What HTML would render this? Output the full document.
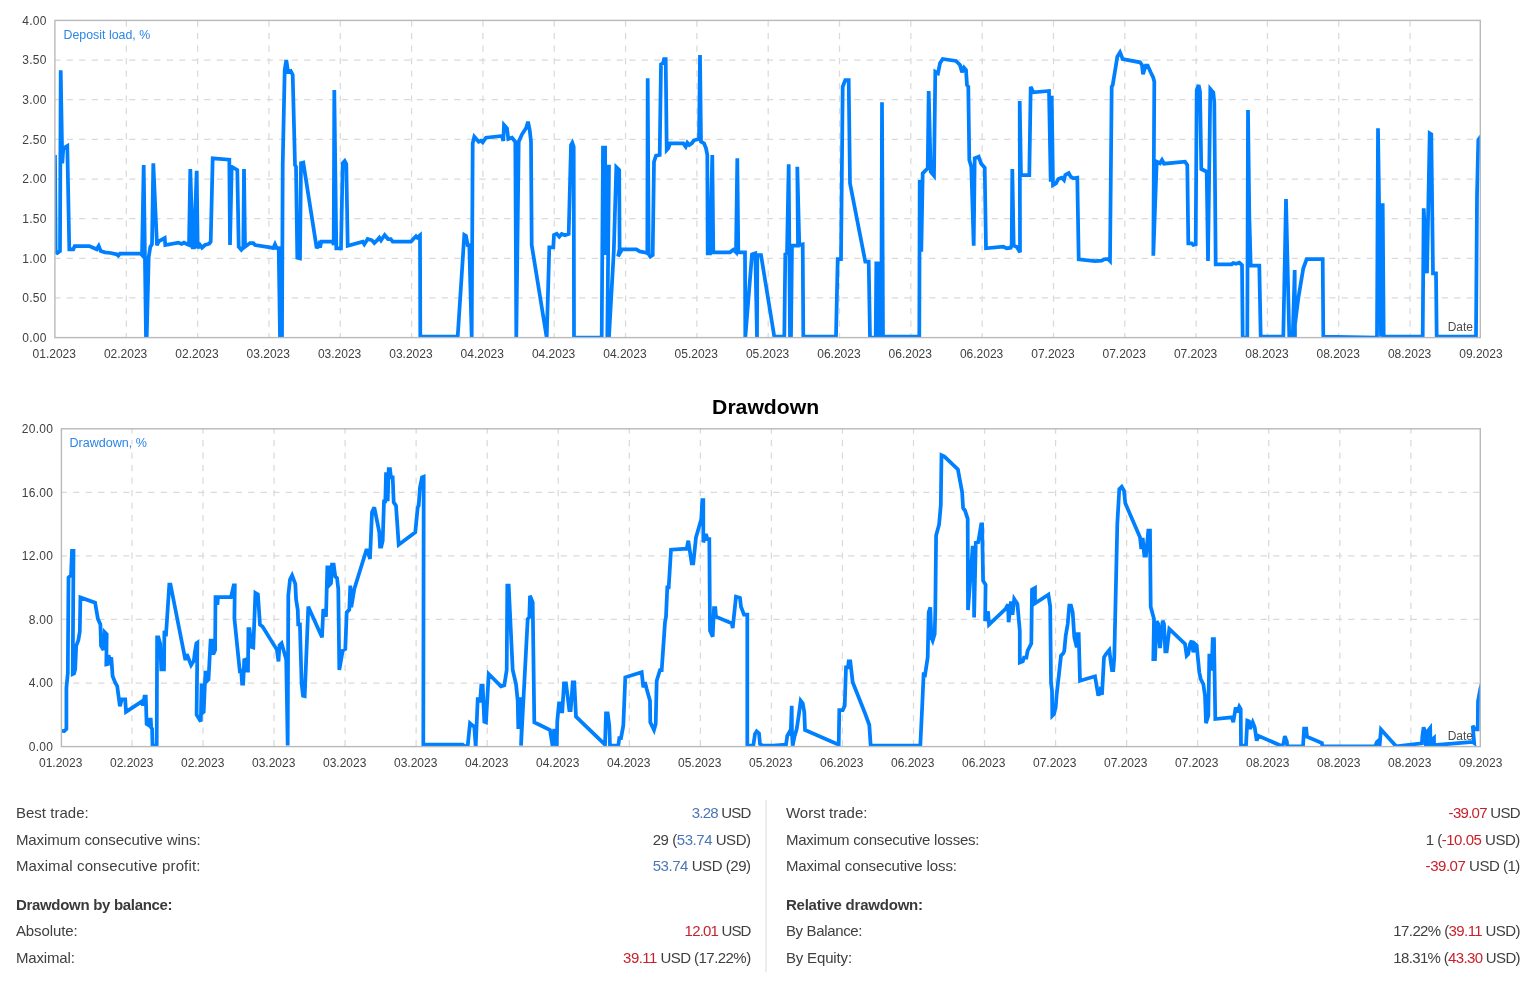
<!DOCTYPE html>
<html><head><meta charset="utf-8"><title>Drawdown</title>
<style>
html,body{margin:0;padding:0;background:#fff;}
body{width:1536px;height:981px;position:relative;overflow:hidden;font-family:"Liberation Sans", sans-serif;color:#404040;}
.t{position:absolute;white-space:nowrap;line-height:20px;height:20px;}
.t b{font-weight:bold;color:#3a3a3a}
.dv{position:absolute;left:765px;top:800px;width:2px;height:171.5px;background:#ececec;}
</style></head><body>
<svg width="1536" height="981" viewBox="0 0 1536 981" style="position:absolute;left:0;top:0" font-family='"Liberation Sans", sans-serif'><defs><clipPath id="c1"><rect x="54.9" y="20.4" width="1425.40" height="317.20"/></clipPath></defs><path d="M54.90 60.05H1480.30M54.90 99.70H1480.30M54.90 139.35H1480.30M54.90 179.00H1480.30M54.90 218.65H1480.30M54.90 258.30H1480.30M54.90 297.95H1480.30" fill="none" stroke="#dadada" stroke-width="1.25" stroke-dasharray="6.25 6.25" stroke-dashoffset="0.7"/><path d="M126.32 20.40V337.60M197.64 20.40V337.60M268.96 20.40V337.60M340.28 20.40V337.60M411.60 20.40V337.60M482.92 20.40V337.60M554.24 20.40V337.60M625.56 20.40V337.60M696.88 20.40V337.60M768.20 20.40V337.60M839.52 20.40V337.60M910.84 20.40V337.60M982.16 20.40V337.60M1053.48 20.40V337.60M1124.80 20.40V337.60M1196.12 20.40V337.60M1267.44 20.40V337.60M1338.76 20.40V337.60M1410.08 20.40V337.60" fill="none" stroke="#dadada" stroke-width="1.25" stroke-dasharray="6.25 6.25" stroke-dashoffset="0"/><text x="63.5" y="38.5" font-size="12" fill="#2b86e6" stroke="#fff" stroke-width="3" stroke-linejoin="round" paint-order="stroke" textLength="86.7" lengthAdjust="spacingAndGlyphs">Deposit load, %</text><polyline clip-path="url(#c1)" points="55.0,155.0 55.7,252.3 57.3,253.0 60.0,251.0 60.7,70.3 62.3,163.3 63.3,148.3 67.3,146.0 69.3,249.3 73.3,249.3 74.7,246.0 89.3,246.0 96.7,249.3 98.7,246.0 100.7,251.0 105.0,252.3 110.7,253.0 116.7,254.3 118.3,255.7 120.0,253.7 140.7,253.7 142.0,255.0 143.7,165.0 146.0,337.7 146.7,337.7 148.7,257.0 150.3,247.0 152.0,244.3 153.3,163.3 157.0,245.3 158.7,241.3 164.7,238.0 165.3,245.0 178.3,242.7 181.7,244.0 184.0,242.7 186.7,244.0 189.0,245.0 190.3,169.0 192.7,247.3 194.0,247.3 196.7,170.7 197.7,248.3 200.0,245.0 202.0,247.7 205.0,245.0 209.3,243.7 210.7,241.7 212.7,158.3 229.3,159.7 230.0,245.0 231.7,166.7 237.3,170.0 238.7,246.7 241.3,249.7 243.3,247.0 244.0,169.0 245.0,246.7 250.0,243.0 253.3,243.0 255.0,245.0 270.0,247.3 273.3,248.0 275.0,244.3 276.7,248.0 278.7,248.0 280.0,337.7 282.0,337.7 282.7,165.0 284.7,70.0 286.3,60.0 288.0,71.7 290.7,71.0 292.7,75.0 295.0,165.0 296.0,166.7 297.3,257.7 300.0,258.3 301.0,163.3 303.3,162.7 316.7,248.3 318.7,244.3 320.0,247.7 321.3,241.7 332.7,241.7 333.7,245.0 334.3,90.0 336.3,248.3 341.0,248.3 342.7,163.3 344.7,161.0 346.3,164.0 347.7,245.7 362.7,241.7 364.3,244.3 367.7,239.0 372.0,240.3 374.3,243.0 377.7,239.7 379.3,237.7 381.0,240.3 384.7,235.0 388.0,239.0 390.7,239.0 392.7,241.7 411.0,241.7 413.3,239.0 416.0,236.3 417.3,237.7 420.0,235.3 420.3,336.7 457.7,336.7 464.3,235.0 466.0,236.0 467.7,245.0 469.3,245.0 471.7,337.7 472.7,143.3 474.3,136.7 478.7,141.7 481.0,140.7 482.7,142.3 486.0,137.7 502.0,136.0 503.3,141.0 504.0,125.0 507.0,128.3 508.3,139.0 512.0,137.7 515.3,141.7 516.3,337.7 518.7,141.7 522.0,134.3 526.0,128.3 528.0,121.7 529.7,130.0 531.0,141.7 531.7,245.0 546.7,337.7 549.3,247.3 553.3,247.3 554.0,235.0 556.7,233.7 559.3,236.7 561.7,234.0 565.0,235.3 568.7,234.0 571.0,145.0 572.3,142.7 573.7,146.7 574.0,337.7 601.7,337.7 603.0,147.7 605.1,147.7 605.4,255.0 606.4,166.7 607.3,166.7 609.0,166.7 607.3,337.0 609.0,337.0 613.8,251.0 616.3,167.1 619.2,170.0 619.6,248.8 618.1,256.3 622.0,249.4 636.4,249.4 639.7,251.4 646.2,252.7 647.3,253.3 647.7,78.3 648.7,254.3 650.3,256.7 652.7,255.0 654.0,161.7 656.0,155.7 659.7,155.0 661.0,64.3 663.0,63.3 664.0,59.0 665.7,59.0 666.7,150.0 668.3,148.3 670.0,143.3 683.3,143.3 685.7,146.7 687.3,142.7 689.3,145.0 691.7,143.3 694.0,140.3 699.0,139.0 700.0,55.0 701.0,141.7 704.0,143.3 706.0,148.3 707.3,155.0 707.7,253.3 710.0,253.3 712.3,155.0 713.3,252.3 730.0,252.3 733.3,249.7 736.0,252.3 737.3,158.3 738.3,252.3 745.0,252.3 745.3,337.7 752.0,254.3 755.3,253.3 757.0,337.7 757.3,255.0 761.0,255.0 774.3,336.7 784.3,336.7 785.3,254.3 787.0,253.7 788.7,164.3 790.0,337.7 791.0,337.7 792.0,245.7 798.0,245.7 797.3,166.7 799.3,245.0 802.7,244.3 803.3,336.7 836.0,336.7 837.7,259.0 841.0,259.0 842.7,86.7 845.3,80.0 848.7,80.0 850.0,183.3 865.3,261.7 868.7,261.7 870.0,337.7 875.7,337.7 876.3,263.3 878.0,263.3 878.3,337.7 881.3,337.7 882.0,102.3 883.0,336.7 919.3,336.7 919.7,180.0 921.3,251.7 922.7,173.3 927.7,168.3 928.7,91.0 930.7,171.7 934.0,175.7 935.3,71.7 938.0,73.3 940.0,63.3 942.7,59.0 956.0,61.0 960.0,65.0 962.0,72.3 964.0,67.7 966.0,70.0 967.0,85.0 968.3,86.7 969.3,160.0 971.3,166.7 973.7,245.7 974.7,158.3 978.7,156.7 981.0,163.3 981.7,164.3 984.7,167.7 986.0,248.3 1003.3,246.7 1006.7,248.3 1010.7,247.7 1011.7,245.0 1012.3,169.0 1013.7,245.7 1016.7,246.7 1020.0,252.3 1019.7,101.0 1021.0,175.0 1029.3,175.0 1030.7,86.7 1033.3,92.3 1049.0,91.0 1050.7,181.7 1051.7,95.7 1053.0,185.0 1056.0,183.3 1058.3,179.0 1061.7,177.7 1064.0,180.0 1065.3,175.0 1068.7,173.0 1070.7,176.7 1073.3,178.3 1077.3,177.7 1078.7,259.3 1095.0,261.0 1101.7,260.7 1104.0,259.3 1108.0,259.0 1110.0,261.0 1111.7,86.7 1112.7,85.0 1116.0,65.0 1117.3,56.7 1120.0,52.3 1122.7,59.0 1140.0,62.3 1142.0,65.0 1143.0,74.3 1145.7,65.7 1147.7,65.7 1150.7,72.3 1153.3,77.7 1154.3,81.7 1153.3,255.7 1156.7,161.7 1160.0,163.3 1162.0,160.0 1164.0,163.7 1185.0,161.7 1187.3,165.0 1188.3,243.3 1191.7,243.3 1193.3,245.0 1195.7,244.3 1196.7,90.0 1198.7,85.0 1200.0,91.7 1201.3,169.0 1206.7,171.7 1208.0,261.0 1210.3,89.0 1212.0,91.0 1213.3,92.3 1214.3,102.3 1215.7,264.3 1231.7,264.3 1233.3,263.0 1236.0,263.7 1239.3,262.7 1242.0,265.0 1242.7,337.7 1247.3,337.7 1248.0,110.0 1249.3,215.0 1250.7,265.7 1259.3,265.7 1260.7,336.7 1283.3,336.7 1286.0,199.0 1289.3,337.7 1292.7,337.7 1294.7,270.0 1295.0,337.7 1293.3,337.7 1298.3,298.3 1303.3,268.3 1306.7,259.0 1322.7,259.0 1323.3,336.7 1377.0,337.7 1378.0,128.3 1381.0,336.7 1382.7,203.3 1383.7,336.7 1422.7,336.7 1423.7,208.3 1427.0,273.3 1429.7,133.3 1431.3,134.3 1433.0,273.3 1436.0,273.3 1436.7,336.7 1476.0,336.7 1477.0,195.0 1478.3,140.0 1480.7,136.7 1487.3,131.7" fill="none" stroke="#0080ff" stroke-width="3.75" stroke-linejoin="miter" stroke-miterlimit="3"/><text x="1473.0" y="331.2" font-size="12" fill="#4d4d4d" text-anchor="end">Date</text><rect x="54.9" y="20.4" width="1425.40" height="317.20" fill="none" stroke="#b9b9b9" stroke-width="1.4"/><text x="46.6" y="24.7" font-size="12" fill="#404040" text-anchor="end" letter-spacing="0.25">4.00</text><text x="46.6" y="64.4" font-size="12" fill="#404040" text-anchor="end" letter-spacing="0.25">3.50</text><text x="46.6" y="104.0" font-size="12" fill="#404040" text-anchor="end" letter-spacing="0.25">3.00</text><text x="46.6" y="143.7" font-size="12" fill="#404040" text-anchor="end" letter-spacing="0.25">2.50</text><text x="46.6" y="183.3" font-size="12" fill="#404040" text-anchor="end" letter-spacing="0.25">2.00</text><text x="46.6" y="223.0" font-size="12" fill="#404040" text-anchor="end" letter-spacing="0.25">1.50</text><text x="46.6" y="262.6" font-size="12" fill="#404040" text-anchor="end" letter-spacing="0.25">1.00</text><text x="46.6" y="302.3" font-size="12" fill="#404040" text-anchor="end" letter-spacing="0.25">0.50</text><text x="46.6" y="341.9" font-size="12" fill="#404040" text-anchor="end" letter-spacing="0.25">0.00</text><text x="54.3" y="357.6" font-size="12" fill="#404040" text-anchor="middle">01.2023</text><text x="125.6" y="357.6" font-size="12" fill="#404040" text-anchor="middle">02.2023</text><text x="197.0" y="357.6" font-size="12" fill="#404040" text-anchor="middle">02.2023</text><text x="268.3" y="357.6" font-size="12" fill="#404040" text-anchor="middle">03.2023</text><text x="339.6" y="357.6" font-size="12" fill="#404040" text-anchor="middle">03.2023</text><text x="410.9" y="357.6" font-size="12" fill="#404040" text-anchor="middle">03.2023</text><text x="482.3" y="357.6" font-size="12" fill="#404040" text-anchor="middle">04.2023</text><text x="553.6" y="357.6" font-size="12" fill="#404040" text-anchor="middle">04.2023</text><text x="624.9" y="357.6" font-size="12" fill="#404040" text-anchor="middle">04.2023</text><text x="696.3" y="357.6" font-size="12" fill="#404040" text-anchor="middle">05.2023</text><text x="767.6" y="357.6" font-size="12" fill="#404040" text-anchor="middle">05.2023</text><text x="838.9" y="357.6" font-size="12" fill="#404040" text-anchor="middle">06.2023</text><text x="910.3" y="357.6" font-size="12" fill="#404040" text-anchor="middle">06.2023</text><text x="981.6" y="357.6" font-size="12" fill="#404040" text-anchor="middle">06.2023</text><text x="1052.9" y="357.6" font-size="12" fill="#404040" text-anchor="middle">07.2023</text><text x="1124.2" y="357.6" font-size="12" fill="#404040" text-anchor="middle">07.2023</text><text x="1195.6" y="357.6" font-size="12" fill="#404040" text-anchor="middle">07.2023</text><text x="1266.9" y="357.6" font-size="12" fill="#404040" text-anchor="middle">08.2023</text><text x="1338.2" y="357.6" font-size="12" fill="#404040" text-anchor="middle">08.2023</text><text x="1409.6" y="357.6" font-size="12" fill="#404040" text-anchor="middle">08.2023</text><text x="1480.9" y="357.6" font-size="12" fill="#404040" text-anchor="middle">09.2023</text><defs><clipPath id="c2"><rect x="61.4" y="428.8" width="1418.90" height="317.80"/></clipPath></defs><path d="M61.40 492.36H1480.30M61.40 555.92H1480.30M61.40 619.48H1480.30M61.40 683.04H1480.30" fill="none" stroke="#dadada" stroke-width="1.25" stroke-dasharray="6.25 6.25" stroke-dashoffset="0.7"/><path d="M131.95 428.80V746.60M203.00 428.80V746.60M274.05 428.80V746.60M345.10 428.80V746.60M416.15 428.80V746.60M487.20 428.80V746.60M558.25 428.80V746.60M629.30 428.80V746.60M700.35 428.80V746.60M771.40 428.80V746.60M842.45 428.80V746.60M913.50 428.80V746.60M984.55 428.80V746.60M1055.60 428.80V746.60M1126.65 428.80V746.60M1197.70 428.80V746.60M1268.75 428.80V746.60M1339.80 428.80V746.60M1410.85 428.80V746.60" fill="none" stroke="#dadada" stroke-width="1.25" stroke-dasharray="6.25 6.25" stroke-dashoffset="1.2"/><text x="69.5" y="447" font-size="12" fill="#2b86e6" stroke="#fff" stroke-width="3" stroke-linejoin="round" paint-order="stroke" textLength="77.5" lengthAdjust="spacingAndGlyphs">Drawdown, %</text><polyline clip-path="url(#c2)" points="61.5,730.8 64.3,731.1 66.4,729.0 66.4,687.8 67.8,673.1 68.5,577.5 71.0,575.0 72.0,550.9 73.5,550.9 72.7,674.1 74.1,673.5 75.2,668.9 76.2,645.8 78.3,640.5 79.8,631.5 80.4,597.5 95.1,602.7 97.9,618.9 100.4,624.4 101.0,645.8 103.5,650.0 104.6,632.1 106.7,634.2 106.3,664.3 108.0,663.9 108.6,655.2 109.8,660.1 111.3,657.3 112.6,676.2 115.1,682.5 117.2,686.1 119.9,706.3 121.8,699.3 125.2,699.3 126.0,711.9 142.0,701.4 143.0,705.6 144.5,696.6 145.8,696.6 146.6,723.9 148.7,725.2 149.1,719.7 150.8,719.7 151.2,727.7 152.1,728.7 152.5,745.5 156.7,745.5 157.1,637.4 158.4,637.4 160.2,643.7 161.3,669.3 164.0,669.3 164.4,630.7 165.9,636.3 169.3,584.5 170.5,584.5 185.4,660.1 186.9,654.2 191.1,665.1 193.8,660.9 194.9,652.1 196.4,643.3 197.4,642.6 196.6,714.7 200.8,721.4 201.6,683.6 202.9,712.6 203.7,711.9 205.4,672.7 206.4,672.7 207.5,680.4 208.5,679.4 210.6,640.5 211.7,640.5 212.1,653.1 213.8,653.1 215.1,650.0 215.5,597.1 216.9,597.1 217.4,604.8 218.0,597.1 231.0,597.1 233.7,585.3 234.8,585.3 234.4,618.5 240.0,673.1 241.1,668.9 242.1,683.6 243.2,683.6 244.2,660.1 246.3,659.4 247.0,670.6 248.0,670.6 248.4,629.0 249.5,629.0 251.2,646.8 253.3,647.5 255.4,592.9 257.9,594.3 260.0,624.8 262.5,626.5 276.8,649.6 278.5,661.5 279.5,645.4 281.6,643.3 286.2,659.4 287.7,745.5 288.3,595.4 290.0,579.6 292.1,575.4 295.3,583.8 296.1,599.6 297.8,610.1 298.2,624.4 299.9,624.4 301.6,683.6 303.0,695.8 304.7,696.2 308.3,606.7 322.0,637.3 323.3,609.0 326.0,616.7 327.3,567.3 328.7,567.3 329.7,584.7 331.0,583.3 332.0,564.7 333.7,564.7 335.3,576.7 337.0,578.0 338.3,589.0 339.3,670.0 342.7,650.7 345.3,649.0 346.7,612.3 349.3,609.7 350.3,585.7 351.3,607.3 354.3,589.0 366.7,549.0 368.7,554.7 370.0,559.0 372.0,512.3 374.3,507.3 379.3,532.3 380.0,546.7 381.3,546.7 382.7,540.7 384.0,501.3 385.3,501.3 386.0,474.0 387.7,474.0 387.7,501.3 388.7,469.0 390.0,469.0 391.0,477.3 392.7,477.3 393.7,502.3 396.0,505.7 398.7,544.7 415.3,532.3 417.7,507.3 418.7,505.7 420.0,487.3 422.0,477.3 423.7,476.7 423.3,744.7 462.7,744.7 464.3,746.0 467.7,746.0 470.0,723.3 472.7,725.7 474.3,726.7 475.7,746.7 477.7,699.0 479.3,699.0 480.0,702.3 481.3,685.7 482.7,685.7 484.3,721.7 486.0,722.3 488.7,674.0 501.0,686.3 504.3,685.3 506.7,670.0 507.3,585.7 508.7,585.7 512.7,670.0 516.0,684.0 517.7,700.7 518.3,729.0 520.0,699.0 522.7,699.0 521.0,745.7 527.7,619.0 529.3,617.3 530.0,595.7 532.7,602.3 534.3,722.3 550.0,730.0 552.7,746.7 554.0,730.7 556.0,730.7 556.7,746.7 557.3,720.7 559.0,703.3 560.7,703.3 561.3,711.3 562.3,711.3 564.0,683.3 566.0,683.3 569.3,710.0 570.7,710.0 572.7,682.3 574.3,682.3 576.0,716.7 605.0,744.7 606.0,713.3 607.7,713.3 609.3,725.7 610.0,745.7 618.3,745.7 619.3,738.0 621.0,738.0 623.3,725.7 625.3,677.3 641.7,672.3 643.3,687.3 645.0,682.3 646.7,689.0 650.0,700.7 650.3,722.3 654.0,730.0 655.7,724.0 656.7,680.7 660.0,670.0 661.7,670.0 665.0,622.3 666.0,616.7 667.3,587.3 668.7,587.3 671.0,549.7 686.7,548.7 688.3,540.7 691.7,563.3 693.3,563.3 696.0,537.3 701.3,519.0 702.3,500.0 703.3,500.0 703.3,542.3 706.0,534.0 707.3,539.0 709.3,539.0 710.0,630.7 712.7,636.7 714.0,608.0 715.3,608.0 716.0,616.7 731.7,623.3 732.7,628.0 736.0,596.7 740.0,598.0 741.0,606.7 744.0,614.7 747.3,614.7 747.3,745.7 753.3,745.7 755.0,734.0 756.7,731.3 759.0,733.3 760.0,744.0 762.7,745.7 773.3,745.7 786.0,744.7 787.3,735.7 789.3,732.3 790.7,734.0 791.7,705.7 792.0,734.0 792.7,745.7 794.3,737.3 796.7,729.0 798.7,715.7 800.7,700.7 802.7,703.3 804.3,712.3 805.0,730.0 838.7,744.7 839.3,710.0 842.7,710.0 844.7,705.7 846.0,667.3 848.0,667.3 848.7,661.3 850.3,661.3 852.7,682.3 865.3,714.0 869.3,725.0 870.7,745.7 920.3,745.7 922.0,710.7 923.7,672.3 924.7,677.3 927.7,657.3 928.7,612.3 930.3,607.3 931.3,637.3 932.7,640.7 934.7,634.0 935.3,610.7 936.1,535.4 939.1,524.4 940.8,504.8 941.5,455.2 944.5,456.6 957.9,469.4 962.1,491.9 963.1,508.0 965.0,510.5 967.7,518.8 968.0,610.0 972.6,547.6 973.8,547.6 974.1,617.4 975.8,542.8 978.2,542.3 981.2,524.4 982.1,524.4 983.1,580.7 985.6,584.8 985.1,621.0 988.0,611.3 989.0,624.7 1005.6,608.8 1008.1,604.4 1008.6,622.3 1011.0,601.5 1012.5,614.9 1014.2,599.0 1017.4,603.9 1019.8,630.8 1019.8,662.6 1022.8,661.4 1024.0,657.7 1026.4,657.7 1027.6,650.9 1031.3,643.5 1032.0,589.7 1035.0,588.0 1035.0,603.4 1048.4,594.6 1050.2,606.4 1051.0,682.3 1052.0,690.7 1052.3,715.7 1054.0,714.0 1055.7,707.3 1056.7,694.0 1059.0,674.0 1061.0,655.7 1063.3,653.3 1064.3,650.7 1065.7,635.7 1067.7,624.0 1069.3,605.7 1071.0,605.7 1072.7,612.3 1074.3,637.3 1076.7,647.3 1077.3,634.0 1078.7,634.0 1080.0,680.7 1095.0,676.3 1098.3,695.7 1100.0,690.7 1102.0,694.7 1104.0,657.3 1106.0,654.0 1109.3,650.0 1110.7,661.3 1112.0,670.0 1113.3,670.0 1114.3,657.3 1117.3,524.0 1119.3,489.0 1121.7,486.7 1124.0,490.7 1125.3,503.3 1140.0,537.3 1141.3,549.0 1142.7,538.0 1144.3,555.7 1146.0,555.7 1148.3,530.7 1150.0,530.7 1150.7,606.7 1154.0,619.0 1153.3,659.0 1155.0,659.0 1156.7,621.3 1158.3,624.0 1160.0,648.0 1162.7,620.7 1164.0,624.0 1165.3,651.3 1166.7,651.3 1169.3,629.0 1185.0,644.0 1186.7,655.7 1188.3,654.0 1190.0,644.0 1191.7,640.7 1193.3,652.3 1195.0,644.0 1196.7,645.7 1199.3,672.3 1200.7,679.0 1203.3,684.0 1205.0,695.7 1206.0,723.3 1208.3,715.7 1209.3,655.7 1211.0,655.7 1211.7,670.7 1212.7,639.0 1214.0,639.0 1215.3,719.0 1231.7,717.3 1233.3,722.3 1235.7,707.3 1237.3,712.3 1239.3,706.7 1240.7,709.0 1241.0,745.7 1246.0,745.7 1247.3,720.7 1249.0,721.3 1250.0,729.0 1252.7,722.3 1254.7,727.3 1256.7,740.7 1258.3,735.7 1282.2,746.3 1283.6,743.0 1284.8,736.2 1286.9,741.6 1287.2,746.3 1303.0,746.3 1304.1,728.7 1306.2,728.7 1307.0,736.6 1321.9,743.0 1322.3,746.3 1375.3,746.3 1376.7,742.3 1378.9,740.2 1379.6,745.9 1381.0,729.4 1396.1,746.3 1421.9,743.3 1422.3,736.6 1423.6,727.3 1425.4,733.0 1425.9,746.3 1426.9,746.3 1427.3,731.6 1430.2,728.0 1430.5,746.2 1431.6,740.2 1434.0,738.0 1434.0,745.2 1472.7,741.9 1474.2,743.0 1472.7,725.8 1475.2,729.4 1477.7,729.4 1478.0,701.5 1480.3,688.6 1482.0,682.9" fill="none" stroke="#0080ff" stroke-width="3.75" stroke-linejoin="miter" stroke-miterlimit="3"/><text x="1473.0" y="740.2" font-size="12" fill="#4d4d4d" text-anchor="end">Date</text><rect x="61.4" y="428.8" width="1418.90" height="317.80" fill="none" stroke="#b9b9b9" stroke-width="1.4"/><text x="53.1" y="433.1" font-size="12" fill="#404040" text-anchor="end" letter-spacing="0.25">20.00</text><text x="53.1" y="496.7" font-size="12" fill="#404040" text-anchor="end" letter-spacing="0.25">16.00</text><text x="53.1" y="560.2" font-size="12" fill="#404040" text-anchor="end" letter-spacing="0.25">12.00</text><text x="53.1" y="623.8" font-size="12" fill="#404040" text-anchor="end" letter-spacing="0.25">8.00</text><text x="53.1" y="687.3" font-size="12" fill="#404040" text-anchor="end" letter-spacing="0.25">4.00</text><text x="53.1" y="750.9" font-size="12" fill="#404040" text-anchor="end" letter-spacing="0.25">0.00</text><text x="60.7" y="766.6" font-size="12" fill="#404040" text-anchor="middle">01.2023</text><text x="131.7" y="766.6" font-size="12" fill="#404040" text-anchor="middle">02.2023</text><text x="202.7" y="766.6" font-size="12" fill="#404040" text-anchor="middle">02.2023</text><text x="273.7" y="766.6" font-size="12" fill="#404040" text-anchor="middle">03.2023</text><text x="344.7" y="766.6" font-size="12" fill="#404040" text-anchor="middle">03.2023</text><text x="415.7" y="766.6" font-size="12" fill="#404040" text-anchor="middle">03.2023</text><text x="486.7" y="766.6" font-size="12" fill="#404040" text-anchor="middle">04.2023</text><text x="557.7" y="766.6" font-size="12" fill="#404040" text-anchor="middle">04.2023</text><text x="628.7" y="766.6" font-size="12" fill="#404040" text-anchor="middle">04.2023</text><text x="699.7" y="766.6" font-size="12" fill="#404040" text-anchor="middle">05.2023</text><text x="770.7" y="766.6" font-size="12" fill="#404040" text-anchor="middle">05.2023</text><text x="841.7" y="766.6" font-size="12" fill="#404040" text-anchor="middle">06.2023</text><text x="912.7" y="766.6" font-size="12" fill="#404040" text-anchor="middle">06.2023</text><text x="983.7" y="766.6" font-size="12" fill="#404040" text-anchor="middle">06.2023</text><text x="1054.7" y="766.6" font-size="12" fill="#404040" text-anchor="middle">07.2023</text><text x="1125.7" y="766.6" font-size="12" fill="#404040" text-anchor="middle">07.2023</text><text x="1196.7" y="766.6" font-size="12" fill="#404040" text-anchor="middle">07.2023</text><text x="1267.7" y="766.6" font-size="12" fill="#404040" text-anchor="middle">08.2023</text><text x="1338.7" y="766.6" font-size="12" fill="#404040" text-anchor="middle">08.2023</text><text x="1409.7" y="766.6" font-size="12" fill="#404040" text-anchor="middle">08.2023</text><text x="1480.7" y="766.6" font-size="12" fill="#404040" text-anchor="middle">09.2023</text><text x="765.6" y="413.6" font-size="21" font-weight="bold" fill="#000" text-anchor="middle" textLength="107" lengthAdjust="spacingAndGlyphs">Drawdown</text></svg>
<div class="dv"></div>
<div id="ll0" class="t" style="left:15.9px;top:803.00px;font-size:15px;letter-spacing:0.032px">Best trade:</div><div id="rl0" class="t" style="left:785.9px;top:803.00px;font-size:15px;letter-spacing:0.015px">Worst trade:</div><div id="lv0" class="t" style="right:785.4px;top:803.00px;font-size:15px;letter-spacing:-0.781px"><span style="color:#4a76b8">3.28</span> USD</div><div id="rv0" class="t" style="right:16.09999999999991px;top:803.00px;font-size:15px;letter-spacing:-0.709px"><span style="color:#c9202b">-39.07</span> USD</div><div id="ll1" class="t" style="left:15.9px;top:830.00px;font-size:15px;letter-spacing:-0.085px">Maximum consecutive wins:</div><div id="rl1" class="t" style="left:785.9px;top:830.00px;font-size:15px;letter-spacing:-0.216px">Maximum consecutive losses:</div><div id="lv1" class="t" style="right:785.4px;top:830.00px;font-size:15px;letter-spacing:-0.454px">29 (<span style="color:#4a76b8">53.74</span> USD)</div><div id="rv1" class="t" style="right:16.09999999999991px;top:830.00px;font-size:15px;letter-spacing:-0.472px">1 (<span style="color:#c9202b">-10.05</span> USD)</div><div id="ll2" class="t" style="left:15.9px;top:856.00px;font-size:15px;letter-spacing:0.137px">Maximal consecutive profit:</div><div id="rl2" class="t" style="left:785.9px;top:856.00px;font-size:15px;letter-spacing:-0.133px">Maximal consecutive loss:</div><div id="lv2" class="t" style="right:785.4px;top:856.00px;font-size:15px;letter-spacing:-0.452px"><span style="color:#4a76b8">53.74</span> USD (29)</div><div id="rv2" class="t" style="right:16.09999999999991px;top:856.00px;font-size:15px;letter-spacing:-0.471px"><span style="color:#c9202b">-39.07</span> USD (1)</div><div id="ll3" class="t" style="left:15.9px;top:895.00px;font-size:15px;letter-spacing:-0.307px"><b>Drawdown by balance:</b></div><div id="rl3" class="t" style="left:785.9px;top:895.00px;font-size:15px;letter-spacing:-0.220px"><b>Relative drawdown:</b></div><div id="ll4" class="t" style="left:15.9px;top:921.00px;font-size:15px;letter-spacing:-0.094px">Absolute:</div><div id="rl4" class="t" style="left:785.9px;top:921.00px;font-size:15px;letter-spacing:-0.350px">By Balance:</div><div id="lv4" class="t" style="right:785.4px;top:921.00px;font-size:15px;letter-spacing:-0.821px"><span style="color:#c9202b">12.01</span> USD</div><div id="rv4" class="t" style="right:16.09999999999991px;top:921.00px;font-size:15px;letter-spacing:-0.596px">17.22% (<span style="color:#c9202b">39.11</span> USD)</div><div id="ll5" class="t" style="left:15.9px;top:948.00px;font-size:15px;letter-spacing:-0.152px">Maximal:</div><div id="rl5" class="t" style="left:785.9px;top:948.00px;font-size:15px;letter-spacing:-0.153px">By Equity:</div><div id="lv5" class="t" style="right:785.4px;top:948.00px;font-size:15px;letter-spacing:-0.545px"><span style="color:#c9202b">39.11</span> USD (17.22%)</div><div id="rv5" class="t" style="right:16.09999999999991px;top:948.00px;font-size:15px;letter-spacing:-0.658px">18.31% (<span style="color:#c9202b">43.30</span> USD)</div>
</body></html>
